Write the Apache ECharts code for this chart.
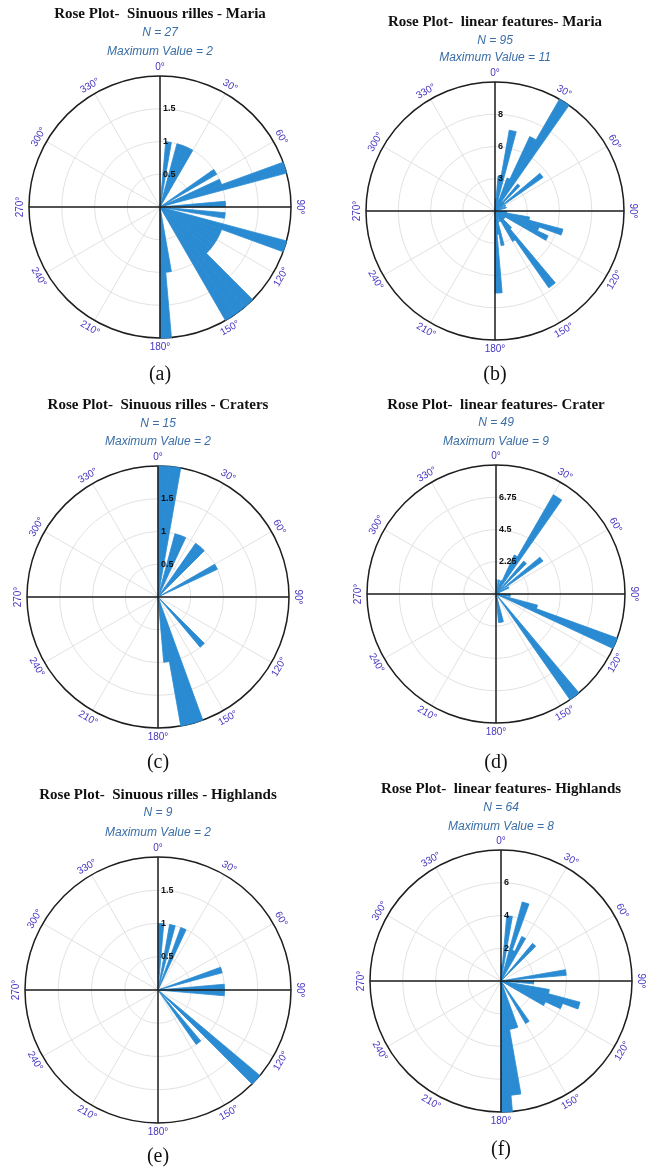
<!DOCTYPE html>
<html>
<head>
<meta charset="utf-8">
<script src="https://cdn.jsdelivr.net/npm/echarts@6/dist/echarts.min.js"></script>
<style>
  html, body { margin: 0; padding: 0; background: #fff; }
  #chart { width: 654px; height: 1167px; }
</style>
</head>
<body>
<div id="chart"></div>
<script>
// Direction bins (start of each 5° bin, azimuth from north, clockwise)
const binStarts = [0, 5, 10, 15, 20, 25, 30, 35, 40, 45, 50, 55, 60, 65, 70, 75, 80, 85,
                   90, 95, 100, 105, 110, 115, 120, 125, 130, 135, 140, 145, 150, 155, 160, 165, 170, 175];
const binWidth = 5;

// Counts per bin for each dataset
const sinuousMaria     = [0, 1, 0, 1, 1, 1, 0, 0, 0, 0, 0, 1, 0, 1, 2, 0, 0, 1,
                          0, 1, 0, 2, 1, 1, 1, 1, 1, 2, 2, 2, 0, 0, 0, 0, 1, 2];
const linearMaria      = [1, 3, 7, 1, 3, 7, 11, 1, 3, 1, 5, 0, 1, 0, 1, 0, 0, 0,
                          1, 1, 3, 6, 4, 5, 1, 1, 1, 2, 8, 3, 1, 0, 1, 3, 2, 7];
const sinuousCraters   = [2, 2, 0, 1, 1, 0, 0, 1, 1, 0, 0, 0, 1, 0, 0, 0, 0, 0,
                          0, 0, 0, 0, 0, 0, 0, 0, 0, 1, 0, 0, 0, 0, 2, 2, 1, 0];
const linearCrater     = [1, 0, 1, 0, 1, 3, 8, 0, 3, 0, 4, 0, 1, 0, 0, 0, 0, 0,
                          1, 1, 0, 3, 9, 0, 0, 0, 0, 0, 9, 0, 0, 0, 0, 2, 2, 0];
const sinuousHighlands = [1, 0, 1, 0, 1, 0, 0, 0, 0, 0, 0, 0, 0, 0, 1, 0, 0, 1,
                          1, 0, 0, 0, 0, 0, 0, 0, 2, 0, 1, 0, 0, 0, 0, 0, 0, 0];
const linearHighlands  = [1, 4, 0, 5, 2, 3, 0, 0, 3, 0, 0, 0, 0, 0, 0, 0, 4, 0,
                          2, 0, 3, 5, 4, 3, 0, 0, 0, 0, 0, 3, 0, 0, 3, 3, 7, 8];

const seriesCounts = [sinuousMaria, linearMaria, sinuousCraters, linearCrater, sinuousHighlands, linearHighlands];

const titles = [
  'Rose Plot-  Sinuous rilles - Maria',
  'Rose Plot-  linear features- Maria',
  'Rose Plot-  Sinuous rilles - Craters',
  'Rose Plot-  linear features- Crater',
  'Rose Plot-  Sinuous rilles - Highlands',
  'Rose Plot-  linear features- Highlands'
];
const sampleSizes = [27, 95, 15, 49, 9, 64];
const maxValues   = [2, 11, 2, 9, 2, 8];
const ringTicks   = [[0.5, 1, 1.5], [2.75, 5.5, 8.25], [0.5, 1, 1.5], [2.25, 4.5, 6.75], [0.5, 1, 1.5], [2, 4, 6]];
const ringLabels  = [['0.5', '1', '1.5'], ['3', '6', '8'], ['0.5', '1', '1.5'], ['2.25', '4.5', '6.75'], ['0.5', '1', '1.5'], ['2', '4', '6']];
const angleTicks  = [0, 30, 60, 90, 120, 150, 180, 210, 240, 270, 300, 330];
const captions    = ['(a)', '(b)', '(c)', '(d)', '(e)', '(f)'];

// Page layout of each rose (centre, radius, text rows)
const layout = [
  { cx: 160, cy: 207, r: 131, titleY: 14,  nY: 33,  maxY: 52,  capY: 375 },
  { cx: 495, cy: 211, r: 129, titleY: 22,  nY: 41,  maxY: 58,  capY: 375 },
  { cx: 158, cy: 597, r: 131, titleY: 405, nY: 424, maxY: 442, capY: 763 },
  { cx: 496, cy: 594, r: 129, titleY: 405, nY: 423, maxY: 442, capY: 763 },
  { cx: 158, cy: 990, r: 133, titleY: 795, nY: 813, maxY: 833, capY: 1157 },
  { cx: 501, cy: 981, r: 131, titleY: 789, nY: 808, maxY: 827, capY: 1150 }
];

const BAR = '#2a8bd2';
const GRID = '#e2e2e2';
const AXIS = '#1e1e1e';
const ANGLE_LABEL = '#4536c0';
const SUB = '#3a6ea6';

const polar = [], angleAxis = [], radiusAxis = [], series = [], graphic = [];

layout.forEach((L, p) => {
  polar.push({ center: [L.cx, L.cy], radius: L.r });
  angleAxis.push({
    polarIndex: p, type: 'value', min: 0, max: 360, interval: 30,
    startAngle: 90, clockwise: true,
    axisLine: { show: true, lineStyle: { color: AXIS, width: 1.5 } },
    axisTick: { show: false }, axisLabel: { show: false },
    splitLine: { show: true, lineStyle: { color: GRID, width: 1 } }
  });
  radiusAxis.push({
    polarIndex: p, type: 'value', min: 0, max: maxValues[p], interval: maxValues[p] / 4,
    axisLine: { show: false }, axisTick: { show: false }, axisLabel: { show: false },
    splitLine: { show: true, lineStyle: { color: GRID, width: 1 } }
  });

  // petals: one sector per 5° bin, from the centre out to the bin count
  series.push({
    type: 'custom', coordinateSystem: 'polar', polarIndex: p, silent: true, z: 3,
    data: binStarts.map((b, i) => [seriesCounts[p][i], b]),
    renderItem(params, api) {
      const v = api.value(0), a0 = api.value(1), a1 = a0 + binWidth;
      if (!v) return null;
      const c = api.coord([0, a0]);
      const e0 = api.coord([v, a0]), e1 = api.coord([v, a1]);
      const r = Math.hypot(e0[0] - c[0], e0[1] - c[1]);
      return {
        type: 'sector',
        shape: {
          cx: c[0], cy: c[1], r0: 0, r: r,
          startAngle: Math.atan2(e0[1] - c[1], e0[0] - c[0]),
          endAngle: Math.atan2(e1[1] - c[1], e1[0] - c[0]),
          clockwise: true
        },
        style: { fill: BAR, stroke: BAR, lineWidth: 0.8 }
      };
    }
  });

  // N-S and E-W axes through the centre
  series.push({
    type: 'custom', coordinateSystem: 'polar', polarIndex: p, silent: true, z: 6,
    data: [[maxValues[p], 0], [maxValues[p], 90]],
    renderItem(params, api) {
      const m = api.value(0), a = api.value(1);
      const p1 = api.coord([m, a]), p2 = api.coord([m, a + 180]);
      return { type: 'line', shape: { x1: p1[0], y1: p1[1], x2: p2[0], y2: p2[1] },
               style: { stroke: AXIS, lineWidth: 1.5 } };
    }
  });

  // azimuth labels, written along the rim
  series.push({
    type: 'custom', coordinateSystem: 'polar', polarIndex: p, silent: true, z: 7,
    data: angleTicks.map(a => [maxValues[p], a]),
    renderItem(params, api) {
      const m = api.value(0), a = api.value(1);
      const c = api.coord([0, a]), e = api.coord([m, a]);
      const dx = e[0] - c[0], dy = e[1] - c[1], len = Math.hypot(dx, dy) || 1;
      const gap = 9;
      const rot = a <= 90 ? a : (a < 270 ? a - 180 : a - 360);
      return {
        type: 'text', x: e[0] + dx / len * gap, y: e[1] + dy / len * gap,
        rotation: -rot * Math.PI / 180,
        style: { text: angleTicks[params.dataIndex] + '°', fill: ANGLE_LABEL,
                 font: '10px "Liberation Sans", Arial, sans-serif',
                 align: 'center', verticalAlign: 'middle' }
      };
    }
  });

  // ring values along the north axis
  series.push({
    type: 'custom', coordinateSystem: 'polar', polarIndex: p, silent: true, z: 7,
    data: ringTicks[p].map(t => [t, 0]),
    renderItem(params, api) {
      const pt = api.coord([api.value(0), api.value(1)]);
      return {
        type: 'text', x: pt[0] + 3, y: pt[1],
        style: { text: ringLabels[p][params.dataIndex], fill: '#111',
                 font: 'bold 9px "Liberation Sans", Arial, sans-serif',
                 align: 'left', verticalAlign: 'middle' }
      };
    }
  });

  graphic.push(
    { type: 'text', x: L.cx, y: L.titleY, silent: true,
      style: { text: titles[p], fill: '#111', font: 'bold 15px "Liberation Serif", "Times New Roman", serif',
               align: 'center', verticalAlign: 'middle' } },
    { type: 'text', x: L.cx, y: L.nY, silent: true,
      style: { text: 'N = ' + sampleSizes[p], fill: SUB, font: 'italic 12px "Liberation Sans", Arial, sans-serif',
               align: 'center', verticalAlign: 'middle' } },
    { type: 'text', x: L.cx, y: L.maxY, silent: true,
      style: { text: 'Maximum Value = ' + maxValues[p], fill: SUB, font: 'italic 12px "Liberation Sans", Arial, sans-serif',
               align: 'center', verticalAlign: 'middle' } },
    { type: 'text', x: L.cx, y: L.capY, silent: true,
      style: { text: captions[p], fill: '#111', font: '20px "Liberation Serif", "Times New Roman", serif',
               align: 'center', verticalAlign: 'middle' } }
  );
});

const chart = echarts.init(document.getElementById('chart'), null, { renderer: 'canvas' });
chart.setOption({
  animation: false,
  backgroundColor: '#ffffff',
  polar, angleAxis, radiusAxis, series, graphic
});
</script>
</body>
</html>
